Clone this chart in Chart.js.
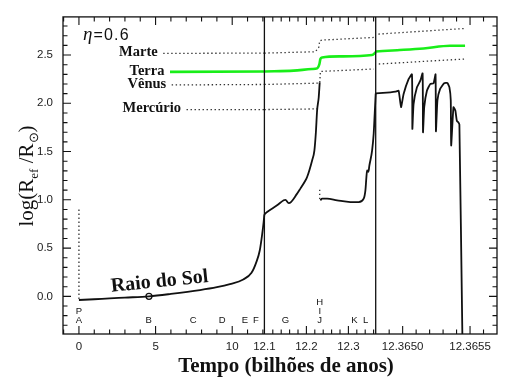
<!DOCTYPE html>
<html><head><meta charset="utf-8">
<script src="https://cdn.jsdelivr.net/npm/chart.js@4.4.1/dist/chart.umd.min.js"></script>
<style>html,body{margin:0;padding:0;background:#fff;}canvas{display:block;}</style>
</head><body>
<canvas id="c" width="516" height="378"></canvas>
<script>
// ---------- broken time axis: three segments (Gyr) ----------
const segStart = [-1.04, 12.1, 12.3648];
const segEnd   = [12.1, 12.365, 12.3657];
const segWidth = [201.4, 111.3, 121.3];          // relative widths of the segments
const segMinorStep = [1, 0.02, 0.0001];

// ---------- tick labels ----------
const xTickLabels = ['0','5','10','12.1','12.2','12.3','12.3650','12.3655'];
const xTickTimes  = [0, 5, 10, 12.1, 12.2, 12.3, 12.365, 12.3655];
const xTickSeg    = [0, 0, 0, 0, 1, 1, 2, 2];
const yTicks = [0, 0.5, 1.0, 1.5, 2.0, 2.5];

// ---------- Sun radius, log(R/Rsun) ----------
const preMsT = [0, 0];
const preMsR = [0.9, -0.035];
const msT = [0, 1, 2, 3, 4.57, 6, 7.9, 9, 9.85, 10.72, 11.26, 11.58, 11.8, 11.96, 12.05, 12.1];
const msR = [-0.038, -0.030, -0.021, -0.013, 0.0, 0.025, 0.065, 0.095, 0.127, 0.175, 0.244, 0.357, 0.478, 0.65, 0.77, 0.85];
const rgbT = [12.1, 12.1064, 12.1302, 12.146, 12.15, 12.158, 12.1779, 12.1857, 12.1976, 12.2017, 12.2136, 12.219, 12.2226, 12.2255, 12.2293, 12.2317];
const rgbR = [0.85, 0.874, 0.943, 0.995, 1.0, 0.965, 1.064, 1.116, 1.2, 1.236, 1.408, 1.51, 1.7, 1.925, 2.06, 2.217];
const flashT = [12.2317, 12.2317];
const flashR = [1.105, 0.995];
const hbT = [12.2333, 12.2374, 12.2493, 12.2731, 12.3048, 12.3245, 12.3364, 12.3405, 12.3429, 12.3445, 12.3476, 12.35, 12.3564, 12.3602, 12.3626, 12.365];
const hbR = [0.995, 1.012, 1.012, 0.995, 0.977, 0.977, 1.012, 1.098, 1.236, 1.305, 1.29, 1.356, 1.51, 1.684, 1.89, 2.10];
const tpT = [12.3648, 12.364909, 12.364946, 12.36497, 12.364988, 12.365007, 12.365044, 12.365069, 12.365072, 12.365081, 12.365106, 12.365131, 12.365148, 12.365151, 12.36516, 12.36518, 12.365205, 12.365229, 12.365244, 12.365247, 12.365258, 12.365278, 12.365308, 12.365332, 12.365347, 12.365357, 12.36536, 12.365377, 12.365391, 12.365402, 12.365414, 12.365421, 12.365443];
const tpR = [2.103, 2.114, 2.12, 2.13, 1.96, 2.097, 2.25, 2.30, 1.735, 1.99, 2.165, 2.234, 2.31, 1.70, 1.96, 2.13, 2.2, 2.207, 2.30, 1.71, 2.03, 2.15, 2.207, 2.21, 2.165, 2.03, 1.563, 1.96, 1.925, 1.82, 1.80, 1.78, -0.39];
const sunNowT = [4.57];
const sunNowR = [0.0];

// ---------- planetary orbits ----------
const earthT0 = [5.94, 12.1], earthR0 = [2.325, 2.33];
const earthT1 = [12.1, 12.1698, 12.2136, 12.2255, 12.231, 12.2333, 12.2374, 12.281, 12.3564, 12.3643, 12.365];
const earthR1 = [2.33, 2.338, 2.355, 2.362, 2.407, 2.459, 2.475, 2.486, 2.5, 2.527, 2.53];
const earthT2 = [12.3648, 12.364959, 12.365155, 12.365352, 12.365463];
const earthR2 = [2.537, 2.55, 2.568, 2.596, 2.596];

const marsT0 = [5.5, 12.1], marsR0 = [2.517, 2.52];
const marsT1 = [12.1, 12.2214, 12.2293, 12.2317, 12.2374, 12.3602];
const marsR1 = [2.52, 2.534, 2.579, 2.648, 2.655, 2.682];
const marsT2 = [12.36482, 12.365463], marsR2 = [2.717, 2.775];

const venusT0 = [6.05, 12.1], venusR0 = [2.19, 2.195];
const venusT1 = [12.1, 12.2136, 12.2317, 12.2333, 12.3602];
const venusR1 = [2.195, 2.207, 2.21, 2.33, 2.355];
const venusT2 = [12.364823, 12.365463], venusR2 = [2.407, 2.459];

const mercT0 = [7.02, 12.1], mercR0 = [1.934, 1.935];
const mercT1 = [12.1, 12.2255], mercR1 = [1.935, 1.942];

const planetNames = ['Marte', 'Terra', 'Vênus', 'Mercúrio'];

// ---------- evolutionary phase letters ----------
const phaseText = ['PA','B','C','D','E','F','G','HIJ','K','L'];
const phaseT    = [0, 4.55, 7.46, 9.35, 10.83, 11.55, 12.15, 12.2317, 12.3143, 12.3412];
const phaseSeg  = [0, 0, 0, 0, 0, 0, 1, 1, 1, 1];

// ---------- helpers ----------
function toU(t, s) {
  let off = 0;
  for (let i = 0; i < s; i++) off += segWidth[i];
  return off + (t - segStart[s]) / (segEnd[s] - segStart[s]) * segWidth[s];
}
const U_MAX = segWidth.reduce((a, b) => a + b, 0);
function pts(ts, rs, s) { return ts.map((t, i) => ({x: toU(t, s), y: rs[i]})); }

const BLACK = '#111';
const GREEN = '#19ee19';
function solid(data, extra) {
  return Object.assign({data, borderColor: BLACK, borderWidth: 1.8, pointRadius: 0,
    cubicInterpolationMode: 'monotone', fill: false}, extra || {});
}
function dotted(data) {
  return {data, borderColor: '#333', borderWidth: 1.3, borderDash: [1.4, 2.6], pointRadius: 0, tension: 0, fill: false};
}
function green(data) {
  return {data, borderColor: GREEN, borderWidth: 2.6, pointRadius: 0, cubicInterpolationMode: 'monotone', fill: false};
}

const planetSeries = [
  [pts(marsT0, marsR0, 0), pts(marsT1, marsR1, 1), pts(marsT2, marsR2, 2)],
  [pts(earthT0, earthR0, 0), pts(earthT1, earthR1, 1), pts(earthT2, earthR2, 2)],
  [pts(venusT0, venusR0, 0), pts(venusT1, venusR1, 1), pts(venusT2, venusR2, 2)],
  [pts(mercT0, mercR0, 0), pts(mercT1, mercR1, 1)]
];

const datasets = [
  dotted(pts(preMsT, preMsR, 0)),
  solid(pts(msT, msR, 0)),
  solid(pts(rgbT, rgbR, 1)),
  dotted(pts(flashT, flashR, 1)),
  solid(pts(hbT, hbR, 1)),
  solid(pts(tpT, tpR, 2), {cubicInterpolationMode: 'default', tension: 0.15}),
];
planetSeries.forEach((segs, p) => segs.forEach(d => datasets.push(p === 1 ? green(d) : dotted(d))));
datasets.push({data: pts(sunNowT, sunNowR, 0), showLine: false, pointRadius: 3, pointBorderWidth: 1.3,
  pointBorderColor: BLACK, pointBackgroundColor: '#fff'});

// ---------- decorations plugin ----------
const deco = {
  id: 'deco',
  afterDatasetsDraw(chart) {
    const {ctx, chartArea: a, scales: {x, y}} = chart;
    ctx.save();
    ctx.strokeStyle = BLACK;
    ctx.lineWidth = 1.3;
    ctx.strokeRect(a.left, a.top, a.right - a.left, a.bottom - a.top);
    // segment boundaries
    for (let s = 1; s < segStart.length; s++) {
      const px = x.getPixelForValue(toU(segStart[s], s));
      ctx.beginPath(); ctx.moveTo(px, a.top); ctx.lineTo(px, a.bottom); ctx.stroke();
    }
    ctx.lineWidth = 1.1;
    // y ticks (left & right)
    for (let k = -3; k <= 28; k++) {
      const py = y.getPixelForValue(k / 10);
      const len = (k % 5 === 0) ? 8 : 4.5;
      ctx.beginPath();
      ctx.moveTo(a.left, py); ctx.lineTo(a.left + len, py);
      ctx.moveTo(a.right, py); ctx.lineTo(a.right - len, py);
      ctx.stroke();
    }
    // x ticks (bottom & top)
    const majors = xTickTimes;
    for (let s = 0; s < segStart.length; s++) {
      const st = segMinorStep[s];
      const k0 = Math.ceil((segStart[s] + st * 0.01) / st);
      const k1 = Math.floor((segEnd[s] - st * 0.01) / st);
      for (let k = k0; k <= k1; k++) {
        const t = k * st;
        const px = x.getPixelForValue(toU(t, s));
        const isMajor = majors.some((m, i) => xTickSeg[i] === s && Math.abs(m - t) < st * 0.01);
        const len = isMajor ? 8 : 4.5;
        ctx.beginPath();
        ctx.moveTo(px, a.bottom); ctx.lineTo(px, a.bottom - len);
        ctx.moveTo(px, a.top); ctx.lineTo(px, a.top + len);
        ctx.stroke();
      }
    }
    ctx.restore();
  },
  afterDraw(chart) {
    const {ctx, chartArea: a, scales: {x, y}} = chart;
    ctx.save();
    ctx.fillStyle = BLACK;
    // phase letters
    ctx.font = '9.5px "Liberation Sans"';
    ctx.textAlign = 'center';
    ctx.textBaseline = 'middle';
    phaseText.forEach((txt, i) => {
      const px = x.getPixelForValue(toU(phaseT[i], phaseSeg[i]));
      const n = txt.length;
      for (let j = 0; j < n; j++) {
        ctx.fillText(txt[j], px, 320 - (n - 1 - j) * 8.6);
      }
    });
    // planet labels
    ctx.font = 'bold 14.5px "Liberation Serif"';
    ctx.textAlign = 'right';
    planetNames.forEach((nm, p) => {
      const first = planetSeries[p][0][0];
      const px = x.getPixelForValue(first.x) - 5.5;
      const py = y.getPixelForValue(first.y) - 1;
      ctx.fillText(nm, px, py);
    });
    // eta label
    ctx.textAlign = 'left';
    ctx.textBaseline = 'alphabetic';
    ctx.font = 'italic 19px "Liberation Serif"';
    ctx.fillText('η', 83, 39.5);
    const ew = ctx.measureText('η').width;
    ctx.font = '16px "Liberation Sans"';
    ctx.letterSpacing = '1.2px';
    ctx.fillText('=0.6', 83 + ew + 1, 39.5);
    ctx.letterSpacing = '0px';
    // Raio do Sol
    const sx = x.getPixelForValue(toU(sunNowT[0], 0));
    const sy = y.getPixelForValue(sunNowR[0]);
    ctx.save();
    ctx.translate(sx - 37.5, sy - 4.5);
    ctx.rotate(-5.8 * Math.PI / 180);
    ctx.font = 'bold 20px "Liberation Serif"';
    ctx.fillText('Raio do Sol', 0, 0);
    ctx.restore();
    // x title
    ctx.textAlign = 'center';
    ctx.font = 'bold 21px "Liberation Serif"';
    ctx.fillText('Tempo (bilhões de anos)', 286, 371.5);
    // y title with subscripts
    ctx.save();
    ctx.translate(33, 176);
    ctx.rotate(-Math.PI / 2);
    const big = '21px "Liberation Serif"', small = '13px "Liberation Serif"';
    const parts = [['log(R', big, 0], ['ef', small, 5], [' /R', big, 0], ['⊙', small, 5], [')', big, 0]];
    let total = 0;
    parts.forEach(p => { ctx.font = p[1]; total += ctx.measureText(p[0]).width; });
    let cx = -total / 2;
    ctx.textAlign = 'left';
    parts.forEach(p => { ctx.font = p[1]; ctx.fillText(p[0], cx, p[2]); cx += ctx.measureText(p[0]).width; });
    ctx.restore();
    ctx.restore();
  }
};

new Chart(document.getElementById('c'), {
  type: 'line',
  data: {datasets},
  options: {
    responsive: false,
    animation: false,
    devicePixelRatio: 1,
    layout: {padding: {top: 16, right: 19, left: 0, bottom: 0}},
    plugins: {legend: {display: false}, tooltip: {enabled: false}},
    scales: {
      x: {
        type: 'linear', min: 0, max: U_MAX,
        grid: {display: false, drawTicks: false},
        border: {display: false},
        ticks: {autoSkip: false, maxRotation: 0, padding: 6, color: '#222',
          font: {family: 'Liberation Sans', size: 11.5},
          callback: (v, i) => xTickLabels[i]},
        afterBuildTicks: s => { s.ticks = xTickTimes.map((t, i) => ({value: toU(t, xTickSeg[i])})); },
        afterFit: s => { s.height = 44; }
      },
      y: {
        type: 'linear', min: -0.39, max: 2.895,
        grid: {display: false, drawTicks: false},
        border: {display: false},
        ticks: {padding: 10, color: '#222', font: {family: 'Liberation Sans', size: 11.5},
          callback: v => Number(v).toFixed(1)},
        afterBuildTicks: s => { s.ticks = yTicks.map(v => ({value: v})); },
        afterFit: s => { s.width = 63; }
      }
    }
  },
  plugins: [deco]
});
</script>
</body></html>
